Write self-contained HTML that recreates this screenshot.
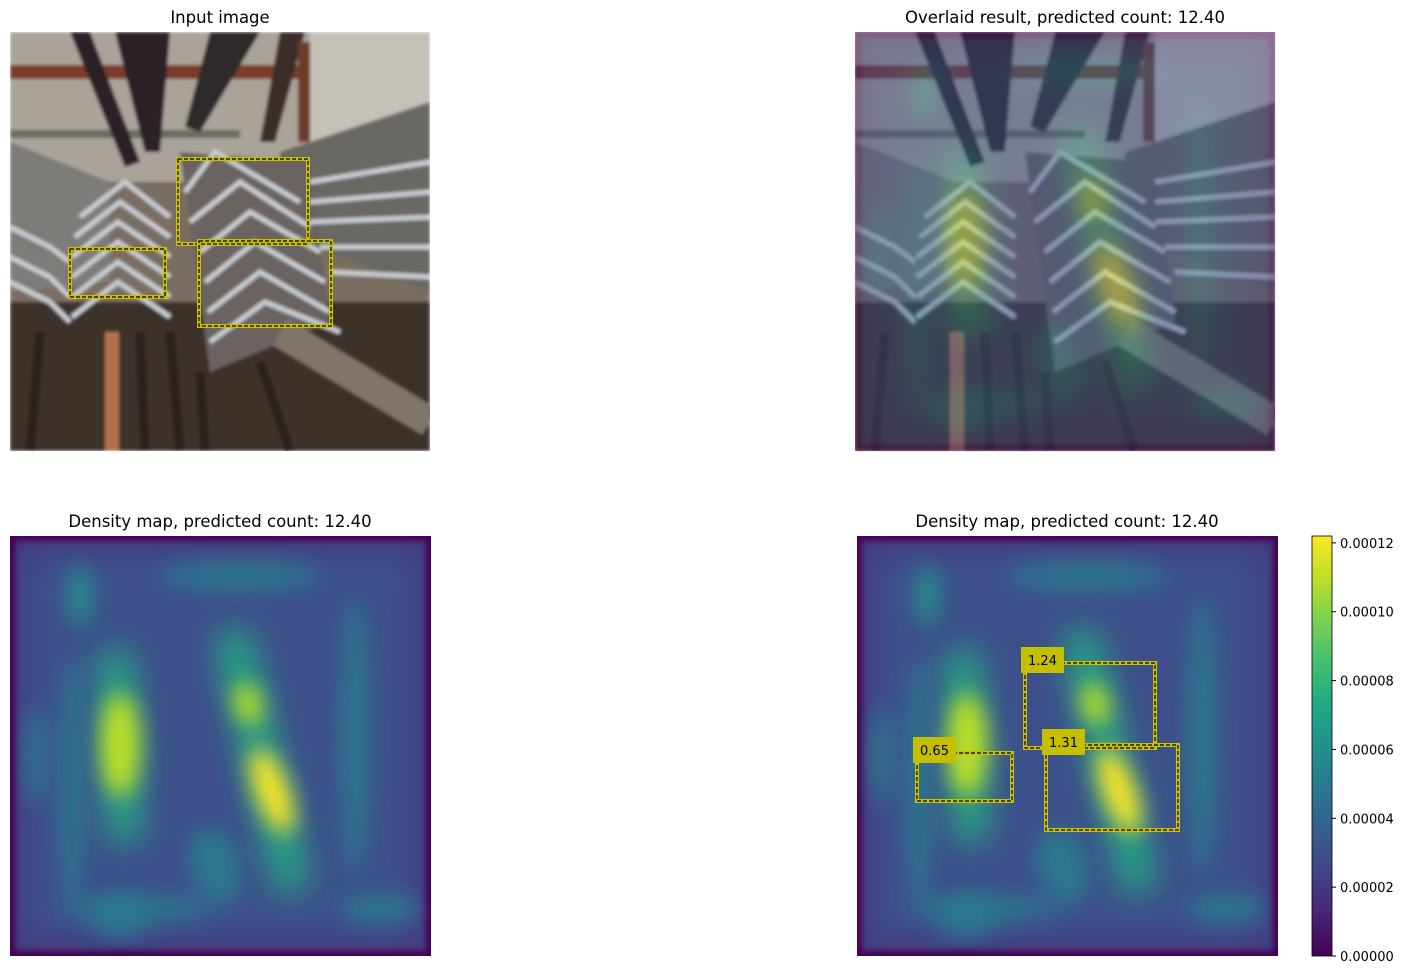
<!DOCTYPE html>
<html><head><meta charset="utf-8"><style>
body{margin:0;background:#fff;width:1409px;height:974px;overflow:hidden;font-family:"Liberation Sans","DejaVu Sans",sans-serif}
svg text{font-family:"DejaVu Sans","Liberation Sans",sans-serif}
</style></head><body>
<svg id="fig" width="1409" height="974" viewBox="0 0 1409 974" xmlns="http://www.w3.org/2000/svg">
<defs>
<filter id="b8" filterUnits="userSpaceOnUse" x="-100" y="-100" width="620" height="620"><feGaussianBlur stdDeviation="11"/></filter>
<filter id="b14" filterUnits="userSpaceOnUse" x="-100" y="-100" width="620" height="620"><feGaussianBlur stdDeviation="16"/></filter>
<filter id="b4" filterUnits="userSpaceOnUse" x="-100" y="-100" width="620" height="620"><feGaussianBlur stdDeviation="3"/></filter>
<filter id="bp" filterUnits="userSpaceOnUse" x="-100" y="-100" width="620" height="620"><feGaussianBlur stdDeviation="1.5"/></filter>
<linearGradient id="cb" x1="0" y1="1" x2="0" y2="0">
<stop offset="0" stop-color="#440154"/><stop offset="0.1" stop-color="#482475"/><stop offset="0.2" stop-color="#414487"/><stop offset="0.3" stop-color="#355f8d"/><stop offset="0.4" stop-color="#2a788e"/><stop offset="0.5" stop-color="#21918c"/><stop offset="0.6" stop-color="#22a884"/><stop offset="0.7" stop-color="#44bf70"/><stop offset="0.8" stop-color="#7ad151"/><stop offset="0.9" stop-color="#bddf26"/><stop offset="1" stop-color="#fde725"/>
</linearGradient>
<clipPath id="pc"><rect x="0" y="0" width="420" height="419"/></clipPath>
<g id="photo" clip-path="url(#pc)">
<g filter="url(#bp)">
<rect width="420" height="419" fill="#7a6d62"/>
<rect width="420" height="150" fill="#a9a39a"/>
<rect x="300" y="0" width="120" height="110" fill="#c4c0b8"/>
<rect x="0" y="33" width="300" height="14" fill="#7a3e2c"/>
<rect x="0" y="98" width="230" height="8" fill="#6d6a62"/>
<polygon points="60,0 80,0 130,130 115,135" fill="#2c2426"/>
<polygon points="105,0 160,0 150,120 135,120" fill="#2a2428"/>
<polygon points="200,0 250,0 190,100 175,95" fill="#2e2a2c"/>
<polygon points="270,0 295,0 265,110 250,110" fill="#3a2e2c"/>
<rect x="288" y="10" width="12" height="100" fill="#6e3a2a"/>
<polygon points="270,120 420,70 420,260 270,200" fill="#6b6764"/>
<polygon points="0,110 100,150 100,250 0,260" fill="#7e7c78"/>
<rect x="0" y="270" width="420" height="149" fill="#3e302a"/>
<polygon points="170,120 300,130 320,290 200,340" fill="#6a6460"/>
<g fill="none" stroke="#c8cdd2" stroke-width="5">
<polyline points="70,185 115,150 160,185"/><polyline points="65,205 110,170 160,205"/><polyline points="62,225 108,190 160,225"/><polyline points="62,245 108,210 160,245"/><polyline points="62,265 108,230 160,265"/><polyline points="62,285 108,250 160,285"/>
<polyline points="0,195 40,215 60,230"/><polyline points="0,225 40,245 60,265"/><polyline points="0,250 40,270 60,290"/>
<polyline points="175,160 205,120 290,170"/><polyline points="180,190 230,150 300,195"/><polyline points="190,220 240,180 310,220"/><polyline points="195,250 245,210 315,250"/><polyline points="198,280 250,240 320,280"/><polyline points="200,310 255,270 330,300"/>
<polyline points="300,150 420,130"/><polyline points="300,170 420,160"/><polyline points="300,190 420,185"/><polyline points="310,215 420,215"/><polyline points="320,240 420,245"/>
</g>
<g stroke="#2a221f" stroke-width="9">
<line x1="30" y1="300" x2="20" y2="419"/><line x1="130" y1="300" x2="135" y2="419"/><line x1="160" y1="300" x2="170" y2="419"/><line x1="190" y1="340" x2="195" y2="419"/><line x1="250" y1="330" x2="280" y2="419"/>
</g>
<rect x="95" y="300" width="14" height="119" fill="#b07048"/>
<line x1="270" y1="300" x2="420" y2="390" stroke="#7f7468" stroke-width="30"/>
</g>
</g>
<clipPath id="dc"><rect x="0" y="0" width="421" height="420"/></clipPath>
<g id="dens" clip-path="url(#dc)">
<rect width="421" height="420" fill="#45397f"/>
<rect x="14" y="14" width="393" height="392" fill="#3d4f8a" filter="url(#b14)"/>
<g id="dens-marks"></g>
<rect x="0" y="0" width="421" height="420" fill="none" stroke="#440154" stroke-width="10" filter="url(#b4)"/>
</g>
</defs>

<text x="220" y="23" font-size="16.5" text-anchor="middle">Input image</text>
<use href="#photo" x="10" y="32"/>
<g id="tl-boxes" transform="translate(10,32)"></g>

<text x="1065" y="23" font-size="16.5" text-anchor="middle">Overlaid result, predicted count: 12.40</text>
<g transform="translate(855,32)">
<use href="#photo"/>
<g opacity="0.45" transform="scale(0.998)"><use href="#dens"/></g>
</g>

<text x="220" y="527" font-size="16.5" text-anchor="middle">Density map, predicted count: 12.40</text>
<use href="#dens" x="10" y="536"/>

<text x="1067" y="527" font-size="16.5" text-anchor="middle">Density map, predicted count: 12.40</text>
<use href="#dens" x="857" y="536"/>
<g id="br-boxes" transform="translate(857,536)"></g>

<rect x="1312" y="536" width="20" height="420" fill="url(#cb)" stroke="#000" stroke-width="0.8"/>
<g id="cb-ticks"></g>
</svg>
<script>
const NS='http://www.w3.org/2000/svg';
// density blobs (relative to 420px panel): cx, cy, rx, ry, rotation, intensity(0..1)
const blobX=[110,238,262,205,70,62,345,230,130,370,25,110];
const blobY=[209,168,255,330,60,250,200,40,372,372,220,380];
const blobRX=[20,13,16,25,12,12,14,80,70,40,10,30];
const blobRY=[52,22,45,40,30,130,140,14,12,14,50,20];
const blobRot=[0,-15,-20,-15,0,0,0,0,0,0,0,0];
const blobV=[0.88,0.85,0.98,0.38,0.45,0.36,0.36,0.35,0.36,0.4,0.36,0.36];
const streakX=[[106,114],[225,280]];
const streakY=[[130,290],[110,340]];
const streakV=[0.55,0.55];
// boxes (in 420px panel coords), counts
const boxX0=[60,168,189];
const boxY0=[217,127,209];
const boxX1=[155,298,321];
const boxY1=[265,212,294];
const boxCounts=['0.65','1.24','1.31'];
// colorbar
const cbTicks=[0,0.00002,0.00004,0.00006,0.00008,0.00010,0.00012];
const cbLabels=['0.00000','0.00002','0.00004','0.00006','0.00008','0.00010','0.00012'];
const cbMax=0.000122;
const viridis=['#440154','#482475','#414487','#355f8d','#2a788e','#21918c','#22a884','#44bf70','#7ad151','#bddf26','#fde725'];
function vcol(v){return viridis[Math.max(0,Math.min(10,Math.round(v*10)))];}

const dm=document.getElementById('dens-marks');
for(let i=0;i<streakX.length;i++){
  const l=document.createElementNS(NS,'line');
  
  
  l.setAttribute('x1',streakX[i][0]);l.setAttribute('x2',streakX[i][1]);
  l.setAttribute('y1',streakY[i][0]);l.setAttribute('y2',streakY[i][1]);
  l.setAttribute('stroke',vcol(streakV[i]));l.setAttribute('stroke-width',36);
  l.setAttribute('stroke-linecap','round');l.setAttribute('filter','url(#b14)');
  dm.appendChild(l);
}
for(let i=0;i<blobX.length;i++){
  const e=document.createElementNS(NS,'ellipse');
  
  
  e.setAttribute('cx',blobX[i]);e.setAttribute('cy',blobY[i]);
  e.setAttribute('rx',blobRX[i]);e.setAttribute('ry',blobRY[i]);
  e.setAttribute('transform','rotate('+blobRot[i]+' '+blobX[i]+' '+blobY[i]+')');
  e.setAttribute('fill',vcol(blobV[i]));e.setAttribute('filter','url(#b8)');
  dm.appendChild(e);
}
function drawBoxes(g,labels){
  for(let i=0;i<boxX0.length;i++){
    const w=boxX1[i]-boxX0[i],h=boxY1[i]-boxY0[i];
    const r=document.createElementNS(NS,'rect');
    
    
    r.setAttribute('x',boxX0[i]);r.setAttribute('y',boxY0[i]);r.setAttribute('width',w);r.setAttribute('height',h);
    r.setAttribute('fill','none');r.setAttribute('stroke','#c8c000');r.setAttribute('stroke-width',4);
    g.appendChild(r);
    const d=document.createElementNS(NS,'rect');
    
    
    d.setAttribute('x',boxX0[i]);d.setAttribute('y',boxY0[i]);d.setAttribute('width',w);d.setAttribute('height',h);
    d.setAttribute('fill','none');d.setAttribute('stroke','#000');d.setAttribute('stroke-width',1.2);d.setAttribute('stroke-dasharray','4,2');
    g.appendChild(d);
    if(labels){
      const b=document.createElementNS(NS,'rect');
      
      
      b.setAttribute('x',boxX0[i]-4);b.setAttribute('y',boxY0[i]-16);b.setAttribute('width',43);b.setAttribute('height',26);
      b.setAttribute('fill','#c4bf00');
      g.appendChild(b);
      const t=document.createElementNS(NS,'text');
      
      
      t.setAttribute('x',boxX0[i]+17.5);t.setAttribute('y',boxY0[i]+2);
      t.setAttribute('font-size','13');t.setAttribute('text-anchor','middle');
      t.textContent=labels[i];
      g.appendChild(t);
    }
  }
}
drawBoxes(document.getElementById('tl-boxes'),null);
drawBoxes(document.getElementById('br-boxes'),boxCounts);
const ct=document.getElementById('cb-ticks');
function cbY(v){return 956-v/cbMax*420;}
for(let i=0;i<cbTicks.length;i++){
  const y=cbY(cbTicks[i]);
  const l=document.createElementNS(NS,'line');
  
  
  l.setAttribute('x1',1332);l.setAttribute('x2',1336);l.setAttribute('y1',y);l.setAttribute('y2',y);
  l.setAttribute('stroke','#000');
  ct.appendChild(l);
  const t=document.createElementNS(NS,'text');
  
  
  t.setAttribute('x',1340);t.setAttribute('y',y+5);t.setAttribute('font-size','13');
  t.textContent=cbLabels[i];
  ct.appendChild(t);
}
</script>
</body></html>
